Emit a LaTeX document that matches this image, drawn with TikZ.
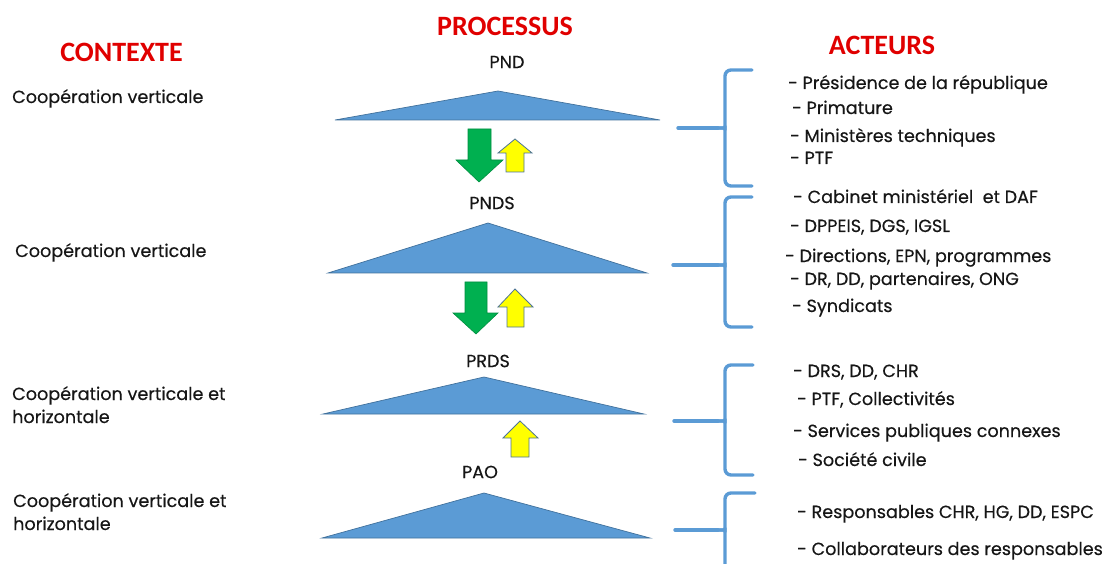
\documentclass[tikz,border=0pt]{standalone}
\usepackage{fontspec}
\setmainfont{Poppins}[FakeBold=0.35]
\newfontfamily\headfont{Carlito}
\definecolor{headred}{HTML}{E00000}
\definecolor{triblue}{HTML}{5B9BD5}
\definecolor{triedge}{HTML}{41719C}
\definecolor{arrgreen}{HTML}{00B050}
\definecolor{arryellow}{HTML}{FFFF00}
\definecolor{txt}{HTML}{161616}
\tikzset{
  heading/.style={font=\headfont\bfseries\fontsize{28}{32}\selectfont, text=headred, inner sep=0pt},
  body/.style={font=\fontsize{17.6}{23}\selectfont, text=txt, inner sep=0pt, anchor=base west, align=left},
  level/.style={font=\fontsize{17.6}{20}\selectfont, text=txt, inner sep=0pt},
  pyramid/.style={fill=triblue, draw=triedge, line width=0.7pt, line join=miter},
  downarrow/.style={fill=arrgreen, draw=arrgreen!80!black, line width=0.6pt},
  uparrow/.style={fill=arryellow, draw=triedge!80!gray, line width=0.8pt},
  bracket/.style={draw=triblue, line width=3.4pt, line cap=round},
}
\begin{document}
\begin{tikzpicture}[x=1pt, y=-1pt]
\useasboundingbox (0,0) rectangle (1109,564);
\clip (0,0) rectangle (1109,564);

% column headings
\node[heading] (hctx) at (121.5,52) {CONTEXTE};
\node[heading] (hproc) at (505,26) {PROCESSUS};
\node[heading] (hact) at (882,45) {ACTEURS};

% context column (base anchor sits on the last line)
\node[body] (c1) at (12,103) {Coopération verticale};
\node[body] (c2) at (15,257) {Coopération verticale};
\node[body] (c3) at (12,423) {Coopération verticale et\\horizontale};
\node[body] (c4) at (13,530) {Coopération verticale et\\horizontale};

% process levels
\node[level] (pnd) at (507,62) {PND};
\node[level] (pnds) at (492,203) {PNDS};
\node[level] (prds) at (488,361) {PRDS};
\node[level] (pao) at (480,472) {PAO};

\fill[pyramid] (335,120) -- (498,91) -- (660,120) -- cycle;
\fill[pyramid] (328,273) -- (488,223) -- (647,273) -- cycle;
\fill[pyramid] (323,414) -- (484,377) -- (644,414) -- cycle;
\fill[pyramid] (322,538) -- (484,493) -- (650,538) -- cycle;

% top-down and bottom-up flows between levels
\filldraw[downarrow] (468,129) -- (491,129) -- (491,160) -- (503,160) -- (479,182) -- (456,160) -- (468,160) -- cycle;
\filldraw[uparrow] (506,172) -- (506,153) -- (498,153) -- (515,139) -- (532,153) -- (524,153) -- (524,172) -- cycle;
\filldraw[downarrow] (465,282) -- (487,282) -- (487,313) -- (498,313) -- (476,334) -- (453,313) -- (465,313) -- cycle;
\filldraw[uparrow] (507,327) -- (507,307) -- (498,307) -- (515,289) -- (533,307) -- (524,307) -- (524,327) -- cycle;
\filldraw[uparrow] (511,457) -- (511,438) -- (503,438) -- (520,421) -- (538,438) -- (529,438) -- (529,457) -- cycle;

% brackets grouping the actors
\coordinate (b1t) at (752,70);  \coordinate (b1m) at (678,128); \coordinate (b1b) at (752,186);
\coordinate (b2t) at (752,197); \coordinate (b2m) at (673,265); \coordinate (b2b) at (752,327);
\coordinate (b3t) at (753,365); \coordinate (b3m) at (674,421); \coordinate (b3b) at (753,475);
\coordinate (b4t) at (755,493); \coordinate (b4m) at (675,530); \coordinate (b4b) at (755,620);
\foreach \b in {b1,b2,b3,b4}{
  \draw[bracket, rounded corners=6pt] (\b t) -- (725,0 |- \b t) -- ([yshift=-6pt]725,0 |- \b m)
     .. controls (725,0 |- \b m) .. ([xshift=-7pt]725,0 |- \b m);
  \draw[bracket, rounded corners=6pt] (\b b) -- (725,0 |- \b b) -- ([yshift=6pt]725,0 |- \b m)
     .. controls (725,0 |- \b m) .. ([xshift=-7pt]725,0 |- \b m);
  \draw[bracket] (\b m) -- ([xshift=-7pt]725,0 |- \b m);
}

% actors
\node[body] (a1) at (788,89)  {- Présidence de la république};
\node[body] (a2) at (792,114) {- Primature};
\node[body] (a3) at (790,142) {- Ministères techniques};
\node[body] (a4) at (790,164) {- PTF};
\node[body] (a5) at (793,203) {- Cabinet ministériel\ \ et DAF};
\node[body] (a6) at (790,232) {- DPPEIS, DGS, IGSL};
\node[body] (a7) at (785,262) {- Directions, EPN, programmes};
\node[body] (a8) at (790,285) {- DR, DD, partenaires, ONG};
\node[body] (a9) at (792,312) {- Syndicats};
\node[body] (a10) at (793,377) {- DRS, DD, CHR};
\node[body] (a11) at (797,405) {- PTF, Collectivités};
\node[body] (a12) at (793,437) {- Services publiques connexes};
\node[body] (a13) at (798,466) {- Société civile};
\node[body] (a14) at (797,518) {- Responsables CHR, HG, DD, ESPC};
\node[body] (a15) at (797,555) {- Collaborateurs des responsables};
\end{tikzpicture}
\end{document}
